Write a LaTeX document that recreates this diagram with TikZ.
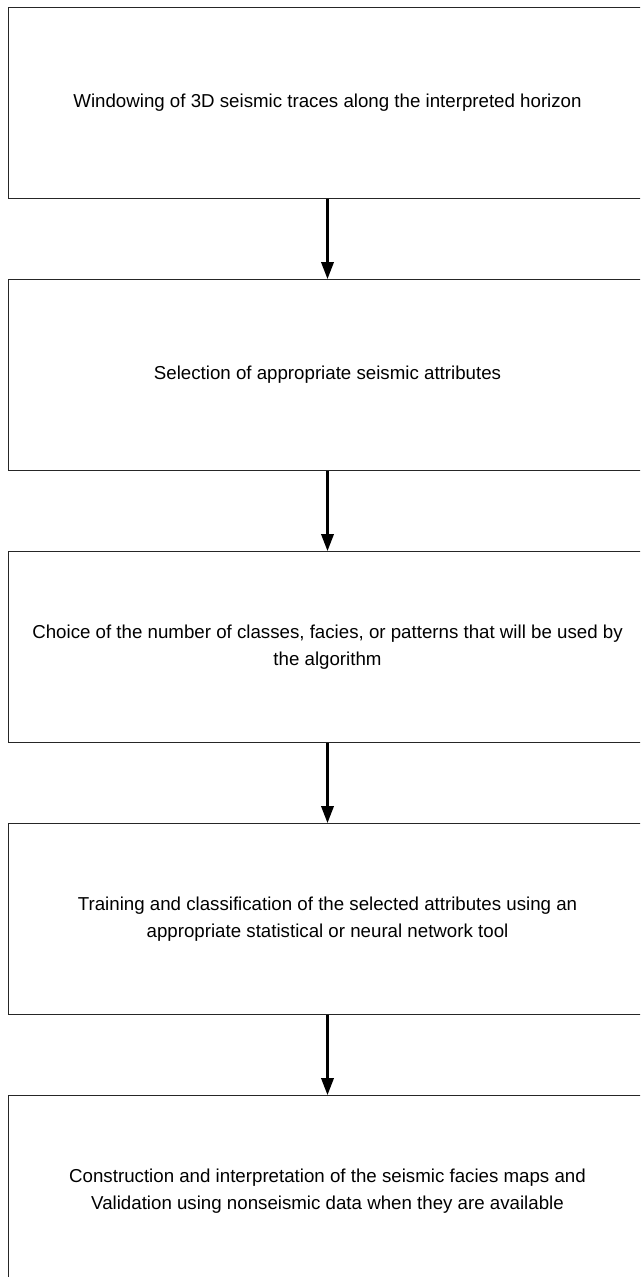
\documentclass[tikz,border=0pt]{standalone}
\usepackage{fontspec}
\setmainfont{Liberation Sans}
\usetikzlibrary{arrows.meta, positioning}

\begin{document}
\begin{tikzpicture}[
    x=1pt, y=1pt,
    font=\fontsize{18.7}{27}\selectfont,
    stepbox/.style={draw=black!85, line width=1pt, align=center,
                    minimum width=639pt, minimum height=191pt, inner sep=0pt},
    flow/.style={-{Triangle[length=17pt, width=12.5pt]}, line width=2.2pt},
]
    \useasboundingbox (0,0) rectangle (640,-1277);
    \clip (0,0) rectangle (640,-1277);

    %==================== PROCESSING STEPS ====================
    \node[stepbox] (window) at (327.5,-103)
        {Windowing of 3D seismic traces along the interpreted horizon};
    \node[stepbox, below=80pt of window] (attrib)
        {Selection of appropriate seismic attributes};
    \node[stepbox, below=80pt of attrib] (classes)
        {Choice of the number of classes, facies, or patterns that will be used by\\
         the algorithm};
    \node[stepbox, below=80pt of classes] (train)
        {Training and classification of the selected attributes using an\\
         appropriate statistical or neural network tool};
    \node[stepbox, below=80pt of train] (maps)
        {Construction and interpretation of the seismic facies maps and\\
         Validation using nonseismic data when they are available};

    %==================== CONNECTORS ====================
    \draw[flow] (window.south) -- (attrib.north);
    \draw[flow] (attrib.south) -- (classes.north);
    \draw[flow] (classes.south) -- (train.north);
    \draw[flow] (train.south) -- (maps.north);

\end{tikzpicture}
\end{document}
